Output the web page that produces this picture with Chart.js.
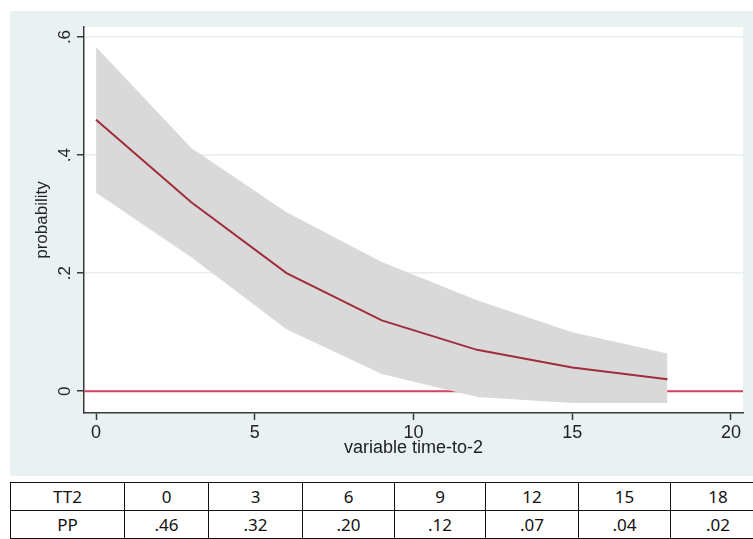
<!DOCTYPE html>
<html>
<head>
<meta charset="utf-8">
<script src="https://cdn.jsdelivr.net/npm/chart.js@4.4.1/dist/chart.umd.min.js"></script>
<style>
  html, body { margin: 0; padding: 0; background: #fff; width: 753px; height: 539px; overflow: hidden; position: relative; }
  #panel { position: absolute; left: 10px; top: 11px; width: 743px; height: 465px; background: #e9f1f3; }
  #panel canvas { position: absolute; left: 0; top: 0; }
  #tbl { position: absolute; left: 10px; top: 482px; width: 755px; border-collapse: collapse; font-family: 'Liberation Sans Narrow', 'Noto Sans', sans-serif; font-size: 17px; color: #111; table-layout: fixed; }
  #tbl td { border: 1.5px solid #111; height: 27px; padding: 0; text-align: center; }
</style>
</head>
<body>
<div id="panel"><canvas id="probChart" width="743" height="465"></canvas></div>
<table id="tbl"></table>
<script>
// data
const tt2 = [0, 3, 6, 9, 12, 15, 18];
const pp = [0.46, 0.32, 0.20, 0.12, 0.07, 0.04, 0.02];
const ciUpper = [0.583, 0.412, 0.303, 0.219, 0.154, 0.100, 0.064];
const ciLower = [0.336, 0.227, 0.105, 0.029, -0.010, -0.020, -0.020];
const xTicks = [0, 5, 10, 15, 20];
const yTicks = [0, 0.2, 0.4, 0.6];
const yTickLabels = ['0', '.2', '.4', '.6'];
const ppLabels = ['.46', '.32', '.20', '.12', '.07', '.04', '.02'];
const refLine = 0;

const toPoints = (ys) => tt2.map((x, i) => ({ x: x, y: ys[i] }));

// table under the chart
const colWidths = [114, 84, 94, 92, 91, 93, 92, 95];
const tbl = document.getElementById('tbl');
let html = '<colgroup>' + colWidths.map(w => `<col style="width:${w}px">`).join('') + '</colgroup>';
html += '<tr><td>TT2</td>' + tt2.map(v => `<td>${v}</td>`).join('') + '</tr>';
html += '<tr><td>PP</td>' + ppLabels.map(v => `<td>${v}</td>`).join('') + '</tr>';
tbl.innerHTML = html;

const axisColor = '#3a3a3a';
const xFont = { family: 'Liberation Sans, Arial, sans-serif', size: 18 };
const yFont = { family: 'Liberation Sans, Arial, sans-serif', size: 17 };

const plotBg = {
  id: 'plotBg',
  beforeDraw(chart) {
    const { ctx, chartArea: a } = chart;
    ctx.save();
    ctx.fillStyle = '#ffffff';
    ctx.fillRect(a.left, a.top, a.right - a.left, a.bottom - a.top);
    ctx.restore();
  },
  beforeDatasetsDraw(chart) {
    // red reference line at zero, behind the band
    const { ctx, chartArea: a, scales } = chart;
    const y = scales.y.getPixelForValue(refLine);
    ctx.save();
    ctx.strokeStyle = '#d4435f';
    ctx.lineWidth = 2;
    ctx.beginPath();
    ctx.moveTo(a.left, y);
    ctx.lineTo(a.right, y);
    ctx.stroke();
    ctx.restore();
  },
  afterDraw(chart) {
    // rotated y tick labels, stata style
    const { ctx, scales } = chart;
    ctx.save();
    ctx.fillStyle = '#222';
    ctx.font = '17px "Liberation Sans", Arial, sans-serif';
    ctx.textAlign = 'center';
    ctx.textBaseline = 'middle';
    yTicks.forEach((v, i) => {
      const y = scales.y.getPixelForValue(v);
      ctx.save();
      ctx.translate(55, y);
      ctx.rotate(-Math.PI / 2);
      ctx.fillText(yTickLabels[i], 0, 0);
      ctx.restore();
    });
    ctx.restore();
  }
};

new Chart(document.getElementById('probChart'), {
  type: 'line',
  data: {
    datasets: [
      {
        label: 'probability',
        data: toPoints(pp),
        borderColor: '#a02c3c',
        borderWidth: 2,
        pointRadius: 0,
        fill: false,
        tension: 0
      },
      {
        label: 'upper',
        data: toPoints(ciUpper),
        borderColor: 'rgba(0,0,0,0)',
        borderWidth: 0,
        backgroundColor: '#d9d9d9',
        pointRadius: 0,
        fill: '+1',
        tension: 0
      },
      {
        label: 'lower',
        data: toPoints(ciLower),
        borderColor: 'rgba(0,0,0,0)',
        borderWidth: 0,
        pointRadius: 0,
        fill: false,
        tension: 0
      }
    ]
  },
  options: {
    responsive: false,
    animation: false,
    layout: { padding: { left: 0, top: 16, right: 10, bottom: 0 } },
    plugins: {
      legend: { display: false },
      tooltip: { enabled: false }
    },
    scales: {
      x: {
        type: 'linear',
        min: -0.38,
        max: 20.38,
        afterBuildTicks: (scale) => { scale.ticks = xTicks.map(v => ({ value: v })); },
        afterFit: (scale) => { scale.height = 63; },
        grid: { drawOnChartArea: false, tickLength: 7, tickColor: axisColor, tickWidth: 1.5 },
        border: { color: axisColor, width: 1.5 },
        ticks: { color: '#222', font: xFont, padding: 2, maxRotation: 0 },
        title: {
          display: true,
          text: 'variable time-to-2',
          color: '#222',
          font: xFont,
          padding: { top: 0, bottom: 17 }
        }
      },
      y: {
        type: 'linear',
        min: -0.037,
        max: 0.617,
        afterBuildTicks: (scale) => { scale.ticks = yTicks.map(v => ({ value: v })); },
        afterFit: (scale) => { scale.width = 74; },
        grid: { color: '#e6eef1', lineWidth: 1.5, tickLength: 7, tickColor: axisColor, tickWidth: 1.5 },
        border: { color: axisColor, width: 1.5 },
        ticks: { display: false },
        title: {
          display: true,
          text: 'probability',
          color: '#222',
          font: yFont,
          padding: { top: 22, bottom: 0 }
        }
      }
    }
  },
  plugins: [plotBg]
});
</script>
</body>
</html>
